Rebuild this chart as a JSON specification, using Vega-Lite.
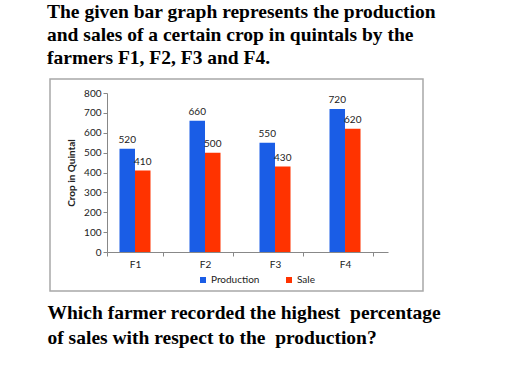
{
  "$schema": "https://vega.github.io/schema/vega-lite/v6.json",
  "width": 373,
  "height": 212,
  "autosize": "none",
  "padding": {"left": 50, "top": 79, "right": 94, "bottom": 81},
  "background": "white",
  "title": {
    "text": ["The given bar graph represents the production", "and sales of a certain crop in quintals by the", "farmers F1, F2, F3 and F4."],
    "anchor": "start",
    "frame": "group",
    "font": "Liberation Serif",
    "fontSize": 19.5,
    "fontWeight": "bold",
    "color": "black",
    "lineHeight": 23,
    "offset": 11,
    "dx": -3
  },
  "data": {
    "values": [
      {"farmer": "F1", "series": "Production", "value": 520},
      {"farmer": "F1", "series": "Sale", "value": 410},
      {"farmer": "F2", "series": "Production", "value": 660},
      {"farmer": "F2", "series": "Sale", "value": 500},
      {"farmer": "F3", "series": "Production", "value": 550},
      {"farmer": "F3", "series": "Sale", "value": 430},
      {"farmer": "F4", "series": "Production", "value": 720},
      {"farmer": "F4", "series": "Sale", "value": 620}
    ]
  },
  "encoding": {
    "x": {
      "field": "farmer",
      "type": "nominal",
      "scale": {"range": [57, 338], "paddingInner": 0.2, "paddingOuter": 0.107, "align": 0},
      "axis": {
        "offset": -39,
        "labelAngle": 0,
        "tickBand": "extent",
        "tickOffset": 7,
        "domainColor": "#888888",
        "tickColor": "#888888",
        "tickSize": 4,
        "labelPadding": 3,
        "labelFont": "Lato",
        "labelFontSize": 10,
        "labelColor": "#222222",
        "title": ["Which farmer recorded the highest\u00a0 percentage", "of sales with respect to the\u00a0 production?"],
        "titleFont": "Liberation Serif",
        "titleFontSize": 19.5,
        "titleFontWeight": "bold",
        "titleColor": "black",
        "titleAnchor": "start",
        "titleAlign": "left",
        "titleBaseline": "alphabetic",
        "titleLineHeight": 25,
        "titleX": -3,
        "titleY": 66
      }
    },
    "xOffset": {
      "field": "series",
      "type": "nominal",
      "scale": {"paddingInner": 0, "paddingOuter": 0.806}
    },
    "y": {
      "field": "value",
      "type": "quantitative",
      "scale": {"domain": [0, 800], "range": [173, 14], "nice": false},
      "axis": {
        "offset": -57,
        "values": [0, 100, 200, 300, 400, 500, 600, 700, 800],
        "grid": false,
        "domainColor": "#888888",
        "tickColor": "#888888",
        "tickSize": 4,
        "labelPadding": 2,
        "labelFont": "Lato",
        "labelFontSize": 10,
        "labelColor": "#222222",
        "title": "Crop in Quintal",
        "titleFont": "Lato",
        "titleFontSize": 10,
        "titleFontWeight": "bold",
        "titleColor": "#222222",
        "titlePadding": 7
      }
    }
  },
  "layer": [
    {
      "mark": {"type": "bar"},
      "encoding": {
        "color": {
          "field": "series",
          "type": "nominal",
          "scale": {"domain": ["Production", "Sale"], "range": ["#1a5de6", "#ff3300"]},
          "legend": {
            "title": null,
            "orient": "none",
            "direction": "horizontal",
            "legendX": 148,
            "legendY": 196,
            "symbolType": "square",
            "symbolSize": 36,
            "symbolStrokeWidth": 0,
            "columnPadding": 24,
            "labelOffset": 3,
            "labelFont": "Lato",
            "labelFontSize": 10,
            "labelColor": "#222222"
          }
        }
      }
    },
    {
      "mark": {"type": "text", "baseline": "bottom", "dy": -4, "font": "Lato", "fontSize": 10, "color": "#222222"},
      "encoding": {
        "text": {"field": "value", "type": "quantitative"}
      }
    }
  ],
  "config": {
    "view": {"stroke": "#a8a8a8", "strokeWidth": 1.5}
  }
}
